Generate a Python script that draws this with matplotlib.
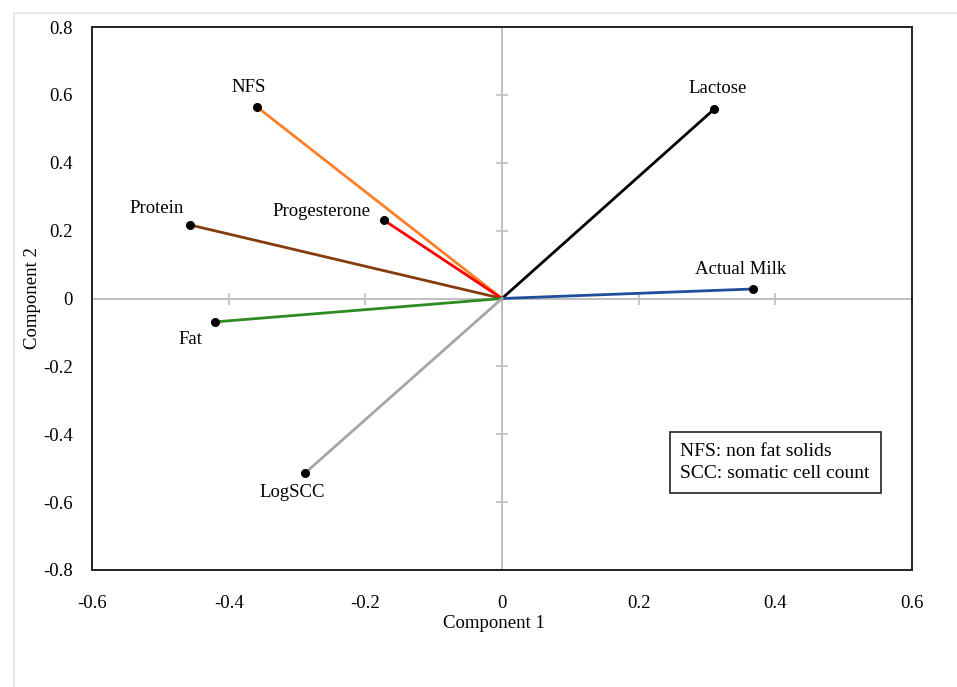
import matplotlib.pyplot as plt
from matplotlib.patches import Rectangle

# loadings
variables = ["NFS", "Protein", "Progesterone", "Fat", "Lactose", "Actual Milk", "LogSCC"]
comp1 = [-0.359, -0.457, -0.173, -0.420, 0.310, 0.367, -0.288]
comp2 = [0.565, 0.217, 0.231, -0.069, 0.557, 0.028, -0.514]
colors = ["#FF7F27", "#843C0C", "#FF0000", "#2E8B22", "#000000", "#1F4E9A", "#A6A6A6"]
# label offsets in points (dx, dy)
label_pos = {
    "NFS": (-6, 14),
    "Protein": (-24, 12),
    "Progesterone": (-45, 6),
    "Fat": (-18, -13),
    "Lactose": (3, 15),
    "Actual Milk": (-9, 14),
    "LogSCC": (-9, -14),
}
ticks_x = [-0.6, -0.4, -0.2, 0, 0.2, 0.4, 0.6]
ticks_y = [-0.8, -0.6, -0.4, -0.2, 0, 0.2, 0.4, 0.6, 0.8]

plt.rcParams["font.family"] = ["Liberation Serif", "DejaVu Serif"]
fs = 13.5

fig = plt.figure(figsize=(9.57, 6.87), dpi=100)
fig.patches.append(Rectangle((14 / 957, -0.01), 1.0, 1 - 13 / 687 + 0.01,
                             transform=fig.transFigure, fill=False,
                             edgecolor="#E3E3E3", linewidth=1.2))
ax = fig.add_axes([92 / 957, 1 - 570 / 687, 820 / 957, 543 / 687])

ax.set_xlim(-0.6, 0.6)
ax.set_ylim(-0.8, 0.8)
ax.set_xticks(ticks_x)
ax.set_yticks(ticks_y)
ax.set_xticklabels([("%g" % t) for t in ticks_x])
ax.set_yticklabels([("%g" % t) for t in ticks_y])
ax.tick_params(axis="x", length=0, labelsize=fs, pad=18)
ax.tick_params(axis="y", length=0, labelsize=fs, pad=14)
for s in ax.spines.values():
    s.set_linewidth(1.4)
    s.set_color("#222222")

# zero axes with small tick marks
ax.axhline(0, color="#BFBFBF", linewidth=1.4, zorder=1)
ax.axvline(0, color="#BFBFBF", linewidth=1.4, zorder=1)
ax.plot([t for t in ticks_x if t != 0], [0] * (len(ticks_x) - 1), linestyle="none",
        marker="|", markersize=9, color="#BFBFBF", markeredgewidth=1.2, zorder=1, clip_on=False)
ax.plot([0] * (len(ticks_y) - 1), [t for t in ticks_y if t != 0], linestyle="none",
        marker="_", markersize=9, color="#BFBFBF", markeredgewidth=1.2, zorder=1, clip_on=False)

for name, x, y, c in zip(variables, comp1, comp2, colors):
    ax.plot([0, x], [0, y], color=c, linewidth=2.0, zorder=2)
    ax.plot(x, y, "o", color="black", markersize=5.5, zorder=3)
    dx, dy = label_pos[name]
    ax.annotate(name, (x, y), xytext=(dx, dy), textcoords="offset points",
                ha="center", va="center", fontsize=fs)

ax.set_xlabel("Component 1", fontsize=fs)
ax.set_ylabel("Component 2", fontsize=fs)
ax.xaxis.set_label_coords(0.49, -0.099)
ax.yaxis.set_label_coords(-0.072, 0.5)
ax.xaxis.label.set_va("center")
ax.yaxis.label.set_va("center")

ax.text(0.261, -0.483, "NFS: non fat solids\nSCC: somatic cell count",
        fontsize=14, ha="left", va="center", linespacing=1.4,
        bbox=dict(boxstyle="square,pad=0.55", facecolor="white", edgecolor="#222222", linewidth=1.2))

plt.savefig("out.png", dpi=100)
